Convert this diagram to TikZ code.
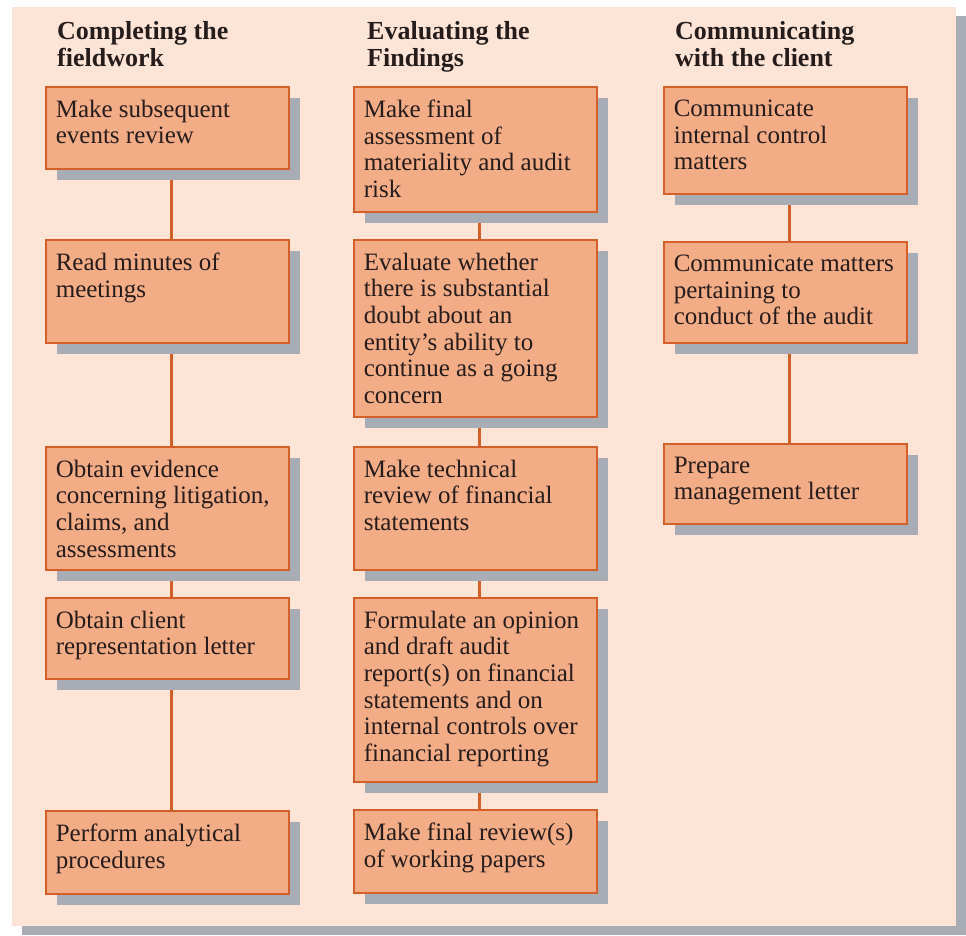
\documentclass[tikz,border=0pt]{standalone}
\usepackage{fontspec}
\setmainfont{Liberation Serif}
\usetikzlibrary{shadows,backgrounds}

\definecolor{panel}{RGB}{253,228,215}
\definecolor{boxfill}{RGB}{242,172,134}
\definecolor{boxline}{RGB}{212,95,40}
\definecolor{shadowgrey}{RGB}{168,172,180}
\definecolor{inkdark}{RGB}{38,28,28}

\tikzset{
  task/.style={draw=boxline, line width=1.6pt, fill=boxfill, anchor=north west,
    inner xsep=10pt, inner ysep=13pt, text=inkdark,
    font=\fontsize{25}{26.7}\selectfont,
    drop shadow={shadow xshift=11pt, shadow yshift=-11pt, fill=shadowgrey, opacity=1},
    execute at begin node={\begin{minipage}[c][#1][t]{223pt}\raggedright},
    execute at end node={\end{minipage}}},
  heading/.style={anchor=north west, inner sep=0pt, align=left, text=inkdark,
    font=\fontsize{26}{27}\selectfont\bfseries},
  link/.style={draw=boxline, line width=2.6pt}
}

\begin{document}
\begin{tikzpicture}[x=1pt, y=-1pt]
    \useasboundingbox (0,0) rectangle (966,935);

    %Headings
    \node[heading] (fwhead) at (57,21) {Completing the\\fieldwork};
    \node[heading] (evhead) at (367,21) {Evaluating the\\Findings};
    \node[heading] (clhead) at (675,21) {Communicating\\with the client};

    %Completing the fieldwork
    \node[task=56pt] (fw1) at (45,86) {Make subsequent\\events review};
    \node[task=77pt] (fw2) at (45,239) {Read minutes of\\meetings};
    \node[task=97pt] (fw3) at (45,446) {Obtain evidence\\concerning litigation,\\claims, and\\assessments};
    \node[task=55pt] (fw4) at (45,597) {Obtain client\\representation letter};
    \node[task=57pt] (fw5) at (45,810) {Perform analytical\\procedures};

    %Evaluating the findings
    \node[task=99pt] (ev1) at (353,86) {Make final\\assessment of\\materiality and audit\\risk};
    \node[task=151pt] (ev2) at (353,239) {Evaluate whether\\there is substantial\\doubt about an\\entity’s ability to\\continue as a going\\concern};
    \node[task=97pt] (ev3) at (353,446) {Make technical\\review of financial\\statements};
    \node[task=158pt] (ev4) at (353,597) {Formulate an opinion\\and draft audit\\report(s) on financial\\statements and on\\internal controls over\\financial reporting};
    \node[task=57pt] (ev5) at (353,809) {Make final review(s)\\of working papers};

    %Communicating with the client
    \node[task=81pt] (cl1) at (663,86) {Communicate\\internal control\\matters};
    \node[task=75pt] (cl2) at (663,241) {Communicate matters\\pertaining to\\conduct of the audit};
    \node[task=54pt] (cl3) at (663,443) {Prepare\\management letter};

    \begin{scope}[on background layer]
      \fill[shadowgrey] (22,16) rectangle (966,935);
      \fill[panel] (12,7) rectangle (956,926);
      \foreach \a/\b in {fw1/fw2,fw2/fw3,fw3/fw4,fw4/fw5,ev1/ev2,ev2/ev3,ev3/ev4,ev4/ev5,cl1/cl2,cl2/cl3}
        \draw[link] ([xshift=4pt]\a.south) -- ([xshift=4pt]\b.north);
    \end{scope}
\end{tikzpicture}
\end{document}
